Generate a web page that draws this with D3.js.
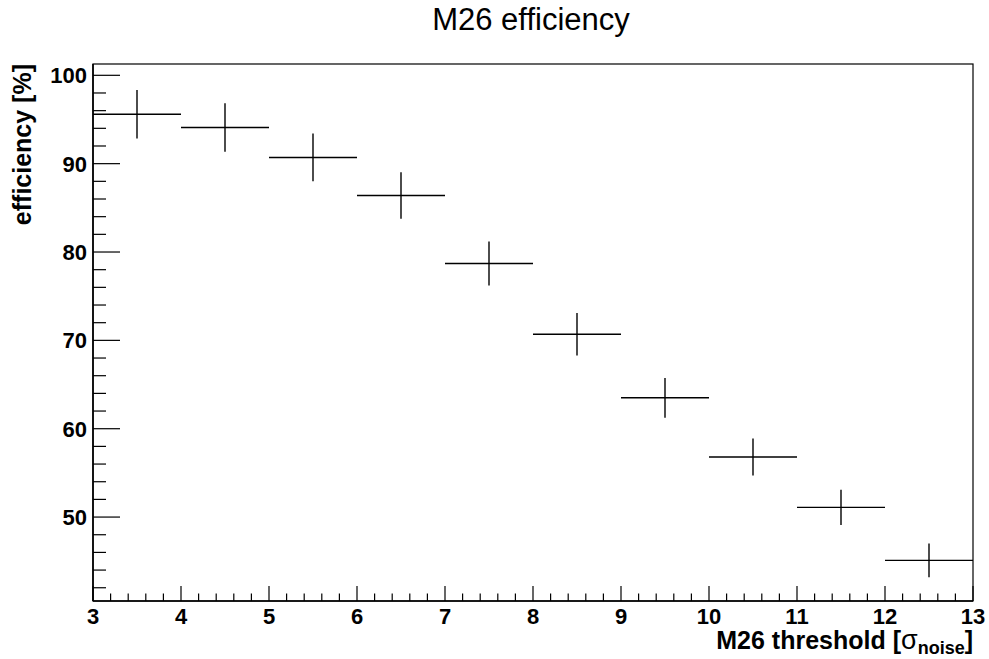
<!DOCTYPE html>
<html>
<head>
<meta charset="utf-8">
<script src="https://cdn.jsdelivr.net/npm/d3@7"></script>
<style>
  body { margin: 0; background: #fff; }
  svg { display: block; }
  text { font-family: "Liberation Sans", Arial, Helvetica, sans-serif; }
</style>
</head>
<body>
<svg id="chart" width="989" height="659"></svg>
<script>
// ---- data ----
const binLow  = [3, 4, 5, 6, 7, 8, 9, 10, 11, 12];
const binHigh = [4, 5, 6, 7, 8, 9, 10, 11, 12, 13];
const efficiency = [95.6, 94.1, 90.7, 86.4, 78.7, 70.7, 63.5, 56.8, 51.1, 45.1];
const errors     = [2.75, 2.74, 2.70, 2.64, 2.50, 2.40, 2.25, 2.10, 2.00, 1.90];
const xTicks = [3, 4, 5, 6, 7, 8, 9, 10, 11, 12, 13];
const yTicks = [50, 60, 70, 80, 90, 100];
const titleText = "M26 efficiency";
const yTitle = "efficiency [%]";

// ---- layout ----
const svg = d3.select("#chart");
const L = 93, R = 973, T = 64, B = 601;
const x = d3.scaleLinear().domain([3, 13]).range([L, R]);
const y = d3.scaleLinear().domain([40.5, 101.28]).range([B, T]);

// frame
svg.append("rect").attr("x", L).attr("y", T).attr("width", R - L).attr("height", B - T)
  .attr("fill", "none").attr("stroke", "#000").attr("stroke-width", 1.2);

// x axis ticks (pointing up)
const xMinor = d3.range(3, 13.001, 0.2).map(v => +v.toFixed(1));
svg.append("g").selectAll("line").data(xMinor).join("line")
  .attr("x1", d => x(d)).attr("x2", d => x(d))
  .attr("y1", B).attr("y2", d => (Math.abs(d - Math.round(d)) < 1e-6) ? B - 15 : B - 7.5)
  .attr("stroke", "#000").attr("stroke-width", 1.2);

// y axis ticks (pointing right)
const yMinor = d3.range(42, 101, 2);
svg.append("g").selectAll("line").data(yMinor).join("line")
  .attr("y1", d => y(d)).attr("y2", d => y(d))
  .attr("x1", L).attr("x2", d => (d % 10 === 0) ? L + 27 : L + 13)
  .attr("stroke", "#000").attr("stroke-width", 1.2);

// axis lines (slightly thicker)
svg.append("line").attr("x1", L).attr("x2", R).attr("y1", B).attr("y2", B)
  .attr("stroke", "#000").attr("stroke-width", 1.6);
svg.append("line").attr("x1", L).attr("x2", L).attr("y1", T).attr("y2", B)
  .attr("stroke", "#000").attr("stroke-width", 1.6);

// tick labels
svg.append("g").selectAll("text").data(xTicks).join("text")
  .attr("x", d => x(d)).attr("y", 624)
  .attr("text-anchor", "middle").attr("font-weight", "bold").attr("font-size", 22)
  .text(d => d);
svg.append("g").selectAll("text").data(yTicks).join("text")
  .attr("x", 87).attr("y", d => y(d)).attr("dy", "0.36em")
  .attr("text-anchor", "end").attr("font-weight", "bold").attr("font-size", 22)
  .text(d => d);

// data: error crosses
const pts = efficiency.map((v, i) => ({lo: binLow[i], hi: binHigh[i], v, e: errors[i]}));
const g = svg.append("g").attr("stroke", "#000").attr("stroke-width", 1.4);
g.selectAll("line.h").data(pts).join("line").attr("class", "h")
  .attr("x1", d => x(d.lo)).attr("x2", d => x(d.hi))
  .attr("y1", d => y(d.v)).attr("y2", d => y(d.v));
g.selectAll("line.v").data(pts).join("line").attr("class", "v")
  .attr("x1", d => x((d.lo + d.hi) / 2)).attr("x2", d => x((d.lo + d.hi) / 2))
  .attr("y1", d => y(d.v - d.e)).attr("y2", d => y(d.v + d.e));

// title
svg.append("text").attr("x", 531).attr("y", 29.5).attr("text-anchor", "middle")
  .attr("font-size", 31).text(titleText);

// x axis title
const xt = svg.append("text").attr("x", 973).attr("y", 649).attr("text-anchor", "end")
  .attr("font-weight", "bold").attr("font-size", 25);
xt.append("tspan").text("M26 threshold [");
xt.append("tspan").attr("font-weight", "normal").attr("font-size", 27).text("σ");
xt.append("tspan").attr("font-size", 18).attr("dy", 5).text("noise");
xt.append("tspan").attr("dy", -5).text("]");

// y axis title
svg.append("text").attr("transform", "translate(31,64) rotate(-90)")
  .attr("text-anchor", "end").attr("font-weight", "bold").attr("font-size", 25)
  .text(yTitle);
</script>
</body>
</html>
